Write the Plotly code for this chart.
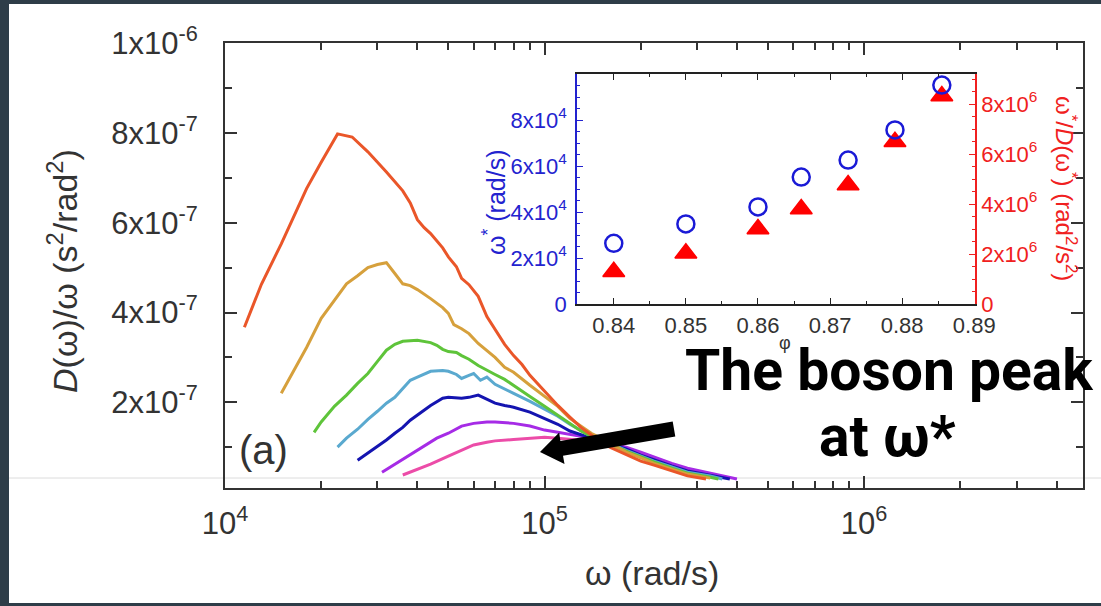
import plotly.graph_objects as go

# ---------------- data ----------------
# main panel: D(w)/w vs w for seven packing fractions (lowest phi = orange, highest = pink)
w1 = [1.15e4, 1.3e4, 1.5e4, 1.8e4, 2.0e4, 2.25e4, 2.5e4, 2.8e4, 3.2e4, 3.6e4, 3.8e4, 4.0e4, 4.2e4, 4.4e4,
      4.8e4, 5.0e4, 5.3e4, 5.5e4, 5.8e4, 6.2e4, 6.6e4, 7.0e4, 7.5e4, 8.0e4, 8.5e4, 9.0e4, 1.0e5, 1.1e5,
      1.2e5, 1.3e5, 1.4e5, 1.5e5, 1.6e5, 1.8e5, 2.0e5, 2.2e5, 2.5e5, 2.8e5, 3.2e5]
d1 = [3.67e-7, 4.63e-7, 5.53e-7, 6.76e-7, 7.35e-7, 7.98e-7, 7.91e-7, 7.58e-7, 7.13e-7, 6.71e-7, 6.44e-7,
      6.07e-7, 5.89e-7, 5.76e-7, 5.44e-7, 5.24e-7, 5.02e-7, 4.76e-7, 4.62e-7, 4.36e-7, 3.91e-7, 3.62e-7,
      3.29e-7, 3.04e-7, 2.84e-7, 2.60e-7, 2.24e-7, 1.93e-7, 1.67e-7, 1.44e-7, 1.27e-7, 1.11e-7, 1.00e-7,
      0.84e-7, 0.69e-7, 0.60e-7, 0.47e-7, 0.36e-7, 0.29e-7]

w2 = [1.5e4, 1.6e4, 1.8e4, 2.0e4, 2.2e4, 2.4e4, 2.6e4, 2.8e4, 3.0e4, 3.2e4, 3.4e4, 3.6e4, 3.8e4, 4.0e4,
      4.4e4, 4.8e4, 5.0e4, 5.2e4, 5.5e4, 5.8e4, 6.2e4, 6.6e4, 7.0e4, 7.5e4, 8.0e4, 9.0e4, 1.0e5, 1.1e5,
      1.2e5, 1.3e5, 1.4e5, 1.5e5, 1.6e5, 1.8e5, 2.0e5, 2.2e5, 2.5e5, 2.8e5, 3.3e5]
d2 = [2.20e-7, 2.56e-7, 3.22e-7, 3.87e-7, 4.27e-7, 4.64e-7, 4.82e-7, 5.00e-7, 5.07e-7, 5.11e-7, 4.87e-7,
      4.64e-7, 4.60e-7, 4.51e-7, 4.31e-7, 4.11e-7, 3.98e-7, 3.73e-7, 3.64e-7, 3.53e-7, 3.31e-7, 3.16e-7,
      3.00e-7, 2.78e-7, 2.67e-7, 2.38e-7, 2.13e-7, 1.91e-7, 1.64e-7, 1.47e-7, 1.31e-7, 1.20e-7, 1.09e-7,
      0.89e-7, 0.76e-7, 0.64e-7, 0.51e-7, 0.40e-7, 0.31e-7]

w3 = [1.9e4, 2.0e4, 2.2e4, 2.4e4, 2.6e4, 2.8e4, 3.0e4, 3.2e4, 3.4e4, 3.6e4, 4.0e4, 4.2e4, 4.4e4, 4.6e4,
      4.8e4, 5.0e4, 5.3e4, 5.5e4, 5.8e4, 6.2e4, 6.6e4, 7.0e4, 7.5e4, 8.0e4, 9.0e4, 1.0e5, 1.1e5, 1.2e5,
      1.3e5, 1.4e5, 1.5e5, 1.6e5, 1.8e5, 2.0e5, 2.2e5, 2.5e5, 2.8e5, 3.3e5, 3.5e5]
d3 = [1.33e-7, 1.56e-7, 1.91e-7, 2.16e-7, 2.42e-7, 2.64e-7, 2.91e-7, 3.16e-7, 3.29e-7, 3.36e-7, 3.38e-7,
      3.36e-7, 3.33e-7, 3.27e-7, 3.18e-7, 3.13e-7, 3.11e-7, 3.04e-7, 2.96e-7, 2.82e-7, 2.71e-7, 2.62e-7,
      2.51e-7, 2.38e-7, 2.13e-7, 1.91e-7, 1.71e-7, 1.53e-7, 1.36e-7, 1.24e-7, 1.16e-7, 1.07e-7, 0.91e-7,
      0.78e-7, 0.67e-7, 0.53e-7, 0.42e-7, 0.33e-7, 0.29e-7]

w4 = [2.25e4, 2.4e4, 2.6e4, 2.8e4, 3.0e4, 3.2e4, 3.4e4, 3.6e4, 3.8e4, 4.0e4, 4.4e4, 4.8e4, 5.0e4, 5.3e4,
      5.5e4, 5.8e4, 6.0e4, 6.3e4, 6.6e4, 7.0e4, 7.5e4, 8.0e4, 9.0e4, 1.0e5, 1.1e5, 1.2e5, 1.3e5, 1.4e5,
      1.5e5, 1.6e5, 1.8e5, 2.0e5, 2.2e5, 2.5e5, 2.8e5, 3.3e5, 3.6e5]
d4 = [1.00e-7, 1.20e-7, 1.40e-7, 1.62e-7, 1.80e-7, 1.98e-7, 2.11e-7, 2.31e-7, 2.49e-7, 2.56e-7, 2.69e-7,
      2.71e-7, 2.69e-7, 2.62e-7, 2.53e-7, 2.60e-7, 2.64e-7, 2.49e-7, 2.56e-7, 2.40e-7, 2.29e-7, 2.20e-7,
      2.02e-7, 1.84e-7, 1.69e-7, 1.51e-7, 1.36e-7, 1.24e-7, 1.16e-7, 1.09e-7, 0.93e-7, 0.80e-7, 0.69e-7,
      0.56e-7, 0.44e-7, 0.36e-7, 0.29e-7]

w5 = [2.6e4, 2.8e4, 3.0e4, 3.2e4, 3.4e4, 3.6e4, 3.8e4, 4.0e4, 4.4e4, 4.8e4, 5.0e4, 5.5e4, 5.8e4, 6.2e4,
      6.6e4, 7.0e4, 7.5e4, 8.0e4, 9.0e4, 1.0e5, 1.1e5, 1.2e5, 1.3e5, 1.4e5, 1.5e5, 1.6e5, 1.8e5, 2.0e5,
      2.2e5, 2.5e5, 2.8e5, 3.3e5, 3.8e5]
d5 = [0.71e-7, 0.87e-7, 1.02e-7, 1.16e-7, 1.31e-7, 1.44e-7, 1.60e-7, 1.71e-7, 1.93e-7, 2.09e-7, 2.11e-7,
      2.09e-7, 2.11e-7, 2.16e-7, 2.07e-7, 1.98e-7, 1.93e-7, 1.89e-7, 1.78e-7, 1.64e-7, 1.51e-7, 1.36e-7,
      1.27e-7, 1.20e-7, 1.13e-7, 1.07e-7, 0.96e-7, 0.82e-7, 0.71e-7, 0.58e-7, 0.47e-7, 0.38e-7, 0.29e-7]

w6 = [3.1e4, 3.4e4, 3.8e4, 4.2e4, 4.6e4, 5.0e4, 5.5e4, 6.0e4, 6.6e4, 7.0e4, 8.0e4, 9.0e4, 1.0e5, 1.1e5,
      1.2e5, 1.3e5, 1.4e5, 1.5e5, 1.6e5, 1.8e5, 2.0e5, 2.2e5, 2.5e5, 2.8e5, 3.3e5, 3.8e5, 4.0e5]
d6 = [0.44e-7, 0.62e-7, 0.84e-7, 1.02e-7, 1.20e-7, 1.31e-7, 1.47e-7, 1.53e-7, 1.56e-7, 1.56e-7, 1.53e-7,
      1.47e-7, 1.38e-7, 1.33e-7, 1.29e-7, 1.24e-7, 1.20e-7, 1.16e-7, 1.09e-7, 1.00e-7, 0.89e-7, 0.78e-7,
      0.64e-7, 0.53e-7, 0.42e-7, 0.33e-7, 0.29e-7]

w7 = [3.6e4, 4.0e4, 4.4e4, 5.0e4, 5.5e4, 6.0e4, 6.6e4, 7.0e4, 8.0e4, 9.0e4, 1.0e5, 1.1e5, 1.2e5, 1.4e5,
      1.6e5, 1.8e5, 2.0e5, 2.2e5, 2.5e5, 2.8e5, 3.3e5, 3.8e5]
d7 = [0.38e-7, 0.51e-7, 0.62e-7, 0.80e-7, 0.93e-7, 1.05e-7, 1.11e-7, 1.14e-7, 1.17e-7, 1.20e-7, 1.22e-7,
      1.20e-7, 1.18e-7, 1.13e-7, 1.07e-7, 0.98e-7, 0.87e-7, 0.76e-7, 0.62e-7, 0.51e-7, 0.40e-7, 0.31e-7]

# inset: boson peak frequency and w*/D(w*) vs packing fraction
phi = [0.84, 0.85, 0.86, 0.866, 0.8725, 0.879, 0.8855]
omega_star = [2.64e4, 3.48e4, 4.22e4, 5.52e4, 6.26e4, 7.57e4, 9.52e4]
ratio_star = [1.29e6, 2.03e6, 3.0e6, 3.8e6, 4.76e6, 6.49e6, 8.32e6]

# tick labels
main_xticks = [1e4, 1e5, 1e6]
main_xticktext = ["10<sup>4</sup>", "10<sup>5</sup>", "10<sup>6</sup>"]
main_xminor = [2e4, 3e4, 4e4, 5e4, 6e4, 7e4, 8e4, 9e4, 2e5, 3e5, 4e5, 5e5, 6e5, 7e5, 8e5, 9e5, 2e6, 3e6, 4e6]
main_yticks = [2e-7, 4e-7, 6e-7, 8e-7, 1e-6]
main_yticktext = ["2x10<sup>-7</sup>", "4x10<sup>-7</sup>", "6x10<sup>-7</sup>", "8x10<sup>-7</sup>", "1x10<sup>-6</sup>"]
main_yminor = [1e-7, 3e-7, 5e-7, 7e-7, 9e-7]
in_xticks = [0.84, 0.85, 0.86, 0.87, 0.88, 0.89]
in_xticktext = ["0.84", "0.85", "0.86", "0.87", "0.88", "0.89"]
in_xminor = [0.835, 0.845, 0.855, 0.865, 0.875, 0.885]
in_lticks = [0, 2e4, 4e4, 6e4, 8e4]
in_lticktext = ["0", "2x10<sup>4</sup>", "4x10<sup>4</sup>", "6x10<sup>4</sup>", "8x10<sup>4</sup>"]
in_lminor = [5e3, 1e4, 1.5e4, 2.5e4, 3e4, 3.5e4, 4.5e4, 5e4, 5.5e4, 6.5e4, 7e4, 7.5e4, 8.5e4, 9e4, 9.5e4]
in_rticks = [0, 2e6, 4e6, 6e6, 8e6]
in_rticktext = ["0", "2x10<sup>6</sup>", "4x10<sup>6</sup>", "6x10<sup>6</sup>", "8x10<sup>6</sup>"]
in_rminor = [5e5, 1e6, 1.5e6, 2.5e6, 3e6, 3.5e6, 4.5e6, 5e6, 5.5e6, 6.5e6, 7e6, 7.5e6, 8.5e6, 9e6]

# ---------------- layout helpers ----------------
W, H = 1101, 606
ML, MR, MT, MB = 225, 18, 43, 118
PW, PH = W - ML - MR, H - MT - MB


def pp(px, py):
    return (px - ML) / PW, (H - MB - py) / PH


FONT = "Liberation Sans, Arial, sans-serif"
DARK = "#333333"
BLUE = "#2323cf"
RED = "#f02020"

curves = [
    (w7, d7, "#ec4ca8"),
    (w6, d6, "#a62be6"),
    (w5, d5, "#1414b0"),
    (w4, d4, "#5aa9cf"),
    (w3, d3, "#5ec43a"),
    (w2, d2, "#d6a03c"),
    (w1, d1, "#ea5629"),
]

fig = go.Figure()
for w, d, c in curves:
    fig.add_trace(go.Scatter(x=w, y=d, mode="lines", line=dict(color=c, width=3),
                             showlegend=False, hoverinfo="skip", xaxis="x", yaxis="y"))

fig.add_trace(go.Scatter(x=phi, y=ratio_star, mode="markers", showlegend=False,
                         marker=dict(symbol="triangle-up", size=19, color="#ff0000",
                                     line=dict(color="#ff0000", width=1.5)),
                         xaxis="x2", yaxis="y2"))
fig.add_trace(go.Scatter(x=phi, y=omega_star, mode="markers", showlegend=False,
                         marker=dict(symbol="circle-open", size=17, color="#1a1ad6",
                                     line=dict(color="#1a1ad6", width=2.5)),
                         xaxis="x2", yaxis="y3"))

ix0, iy0 = pp(577, 304)
ix1, iy1 = pp(975, 74)

axis_common = dict(showgrid=False, zeroline=False, showline=True, ticks="inside", automargin=False)

fig.update_layout(
    width=W, height=H, autosize=False,
    margin=dict(l=ML, r=MR, t=MT, b=MB, pad=0, autoexpand=False),
    paper_bgcolor="#2e3d48",
    plot_bgcolor="white",
    font=dict(family=FONT, color=DARK),
    xaxis=dict(**axis_common, type="log", range=[4, 6.685], tickmode="array",
               tickvals=main_xticks, ticktext=main_xticktext, ticklen=12, tickwidth=1.5,
               tickcolor=DARK, linecolor=DARK, linewidth=2, mirror="ticks",
               minor=dict(tickvals=main_xminor, ticks="inside", ticklen=7, tickcolor=DARK, tickwidth=1.5),
               tickfont=dict(size=31, family=FONT, color=DARK), ticklabelstandoff=7),
    yaxis=dict(**axis_common, range=[9e-9, 1.0005e-6], tickmode="array",
               tickvals=main_yticks, ticktext=main_yticktext, ticklen=12, tickwidth=1.5,
               tickcolor=DARK, linecolor=DARK, linewidth=2, mirror="ticks",
               minor=dict(tickvals=main_yminor, ticks="inside", ticklen=7, tickcolor=DARK, tickwidth=1.5),
               tickfont=dict(size=31, family=FONT, color=DARK), ticklabelstandoff=19),
    xaxis2=dict(**axis_common, domain=[ix0, ix1], anchor="y2", range=[0.8349, 0.8901],
                tickmode="array", tickvals=in_xticks, ticktext=in_xticktext, ticklen=6,
                tickcolor="#222", linecolor="#222", linewidth=1.5, mirror="ticks",
                minor=dict(tickvals=in_xminor, ticks="inside", ticklen=3, tickcolor="#222"),
                tickfont=dict(size=22, family=FONT, color=DARK), ticklabelstandoff=1),
    yaxis2=dict(**axis_common, domain=[iy0, iy1], anchor="x2", side="right", range=[0, 9.2e6],
                tickmode="array", tickvals=in_rticks, ticktext=in_rticktext, ticklen=6,
                tickcolor=RED, linecolor=RED, linewidth=1.5,
                minor=dict(tickvals=in_rminor, ticks="inside", ticklen=3, tickcolor=RED),
                tickfont=dict(size=22, family=FONT, color=RED), ticklabelstandoff=0),
    yaxis3=dict(**axis_common, overlaying="y2", anchor="x2", side="left", range=[0, 1.0e5],
                tickmode="array", tickvals=in_lticks, ticktext=in_lticktext, ticklen=6,
                tickcolor=BLUE, linecolor=BLUE, linewidth=1.5,
                minor=dict(tickvals=in_lminor, ticks="inside", ticklen=3, tickcolor=BLUE),
                tickfont=dict(size=22, family=FONT, color=BLUE), ticklabelstandoff=4),
)

# background (slide white area with dark frame) and faint slide rule
bx0, by0 = pp(9, 603)
bx1, by1 = pp(1110, 4)
lx0, ly = pp(9, 478)
lx1, _ = pp(1110, 478)

# arrow polygon (pixel geometry converted to paper)
arrow_px = [(675.3, 436.4), (672.7, 421.6), (560.4, 440.9), (559.2, 432.5), (540.0, 452.0),
            (564.5, 464.0), (563.0, 455.7)]
arrow_pp = [pp(x, y) for x, y in arrow_px]
arrow_path = "M " + " L ".join(f"{x:.5f},{y:.5f}" for x, y in arrow_pp) + " Z"

fig.update_layout(shapes=[
    dict(type="rect", xref="paper", yref="paper", x0=bx0, x1=bx1, y0=by0, y1=by1,
         fillcolor="white", line=dict(width=0), layer="below"),
    dict(type="line", xref="paper", yref="paper", x0=lx0, x1=lx1, y0=ly, y1=ly,
         line=dict(color="#dcdcdc", width=1), layer="below"),
    dict(type="path", xref="paper", yref="paper", path=arrow_path,
         fillcolor="black", line=dict(color="black", width=0), layer="above"),
])


def ann(text, px, py, size, color=DARK, angle=0, family=FONT):
    x, y = pp(px, py)
    return dict(text=text, x=x, y=y, xref="paper", yref="paper", showarrow=False,
                xanchor="center", yanchor="middle", textangle=angle,
                font=dict(size=size, color=color, family=family))


fig.update_layout(annotations=[
    ann("<i>D</i>(ω)/ω (s<sup>2</sup>/rad<sup>2</sup>)", 62, 271, 34, angle=-90),
    ann("ω (rad/s)", 652, 573, 34),
    ann("(a)", 263, 450, 40),
    ann("ω<sup>*</sup> (rad/s)", 494, 202, 25, color=BLUE, angle=-90),
    ann("ω<sup>*</sup>/<i>D</i>(ω<sup>*</sup>) (rad<sup>2</sup>/s<sup>2</sup>)", 1066, 188, 24,
        color=RED, angle=90),
    ann("φ", 785, 343, 18),
    ann("<b>The boson peak</b>", 889, 370, 57, color="black", family="Roboto"),
    ann("<b>at ω*</b>", 887, 436, 57, color="black", family="Roboto"),
])

fig.write_html("out.html", config={"responsive": False})
